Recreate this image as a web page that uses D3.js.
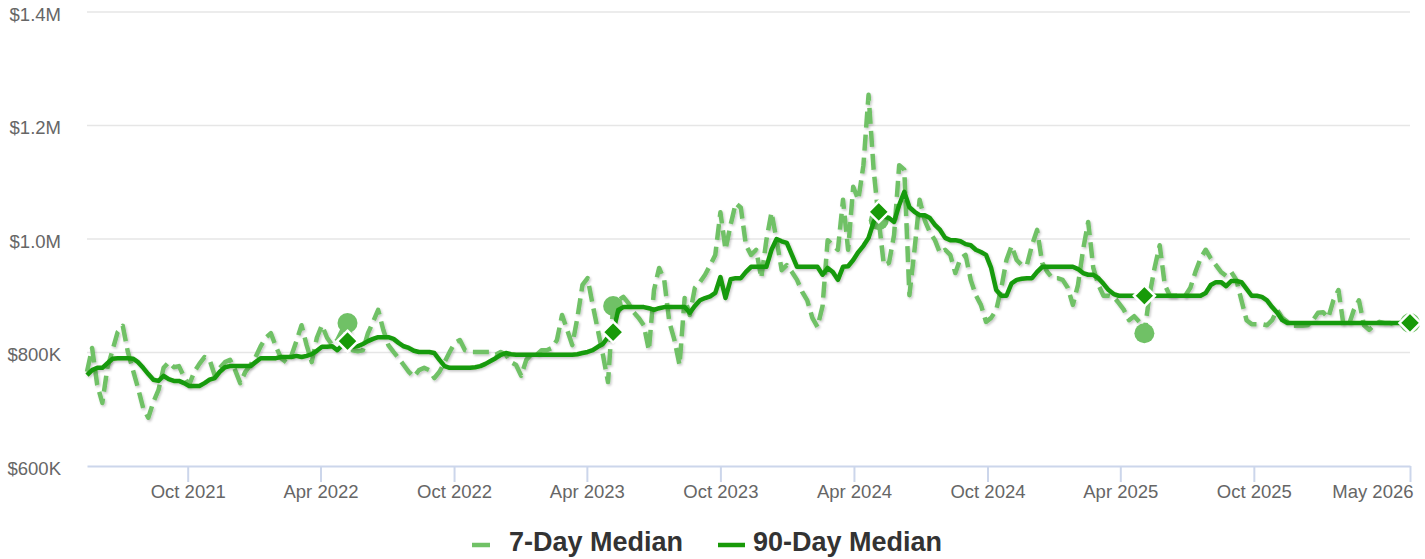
<!DOCTYPE html>
<html><head><meta charset="utf-8">
<script src="https://cdn.jsdelivr.net/npm/d3@7"></script>
<style>
body{margin:0;background:#fff}
svg{display:block;font-family:"Liberation Sans",Arial,Helvetica,sans-serif}
</style>
</head><body>
<svg id="chart" width="1425" height="559"></svg>
<script>
// ---- data (values in thousands of dollars, one point per week) ----
const startDate = "2021-05-16";
const median7 = [
766,808,743,711,773,804,836,847,801,769,
737,702,685,713,734,773,783,774,776,757,
743,766,780,792,787,760,773,783,787,769,
746,766,778,792,811,826,834,810,790,783,
794,820,848,813,783,826,848,826,813,822,
840,852,804,802,804,834,854,875,840,813,
801,790,778,766,757,769,773,769,755,766,
783,801,817,822,804,801,801,801,801,801,
796,801,796,783,778,759,787,797,796,804,
804,808,822,866,840,813,861,919,931,884,
840,796,748,882,892,898,887,871,861,848,
804,910,949,928,854,822,778,896,866,914,
924,937,954,972,1047,981,1025,1063,1055,989,
972,981,931,998,1047,998,945,954,942,928,
907,892,861,845,882,998,989,981,1069,981,
1092,1069,1130,1254,1122,1033,954,958,1007,1130,
1122,901,981,1069,1033,1012,998,975,981,972,
940,966,972,928,901,884,854,861,875,914,
963,988,963,954,954,989,1016,958,942,931,
931,928,914,884,919,981,1030,949,919,900,
900,898,887,875,857,864,854,834,901,949,
989,919,900,900,900,900,914,942,966,981,
966,954,942,935,942,928,892,857,850,850,
850,848,857,875,861,854,847,847,847,848,
857,870,871,861,892,910,847,848,875,892,
848,840,848,854,852,852,850,852,852,852
];
const median90 = [
760,769,773,773,781,789,790,790,790,789,
783,773,762,752,750,759,753,750,750,746,
741,741,741,746,752,755,766,774,776,776,
776,776,776,783,790,790,790,790,792,792,
792,794,792,794,797,803,810,810,811,804,
813,820,810,811,815,820,824,827,827,827,
824,817,811,808,803,801,801,801,799,787,
776,773,773,773,773,773,774,776,780,785,
790,796,799,797,796,796,796,796,796,796,
796,796,796,796,796,796,797,799,801,804,
810,815,827,836,875,880,880,880,880,880,
878,875,878,880,880,880,880,880,870,882,
892,896,899,905,933,896,929,931,931,942,
951,951,951,951,981,1000,996,993,972,951,
951,951,951,951,937,949,942,928,951,952,
963,977,988,1002,1030,1048,1040,1037,1030,1060,
1083,1056,1048,1042,1042,1037,1025,1016,1002,998,
998,996,991,989,981,977,972,949,910,900,
900,922,928,930,931,931,942,951,951,951,
951,951,951,951,947,940,937,937,931,921,
910,903,900,900,900,900,900,900,900,900,
900,900,900,900,900,900,900,900,900,905,
919,924,924,917,926,926,924,912,900,900,
898,892,880,870,857,852,852,852,852,852,
852,852,852,852,852,852,852,852,852,852,
852,852,852,852,852,852,852,852,852,852
];
const markerIdx = [51, 103, 155, 207, 259];
const yTickValues = [600, 800, 1000, 1200, 1400];
const yTickLabels = ["$600K", "$800K", "$1.0M", "$1.2M", "$1.4M"];
const xTickDates = ["2021-10-01","2022-04-01","2022-10-01","2023-04-01","2023-10-01","2024-04-01","2024-10-01","2025-04-01","2025-10-01"];
const xTickLabels = ["Oct 2021","Apr 2022","Oct 2022","Apr 2023","Oct 2023","Apr 2024","Oct 2024","Apr 2025","Oct 2025"];
const endTickLabel = "May 2026";
const seriesNames = ["7-Day Median", "90-Day Median"];
const colors = ["#70c166", "#189a08"];

// ---- build ----
const parse = d3.timeParse("%Y-%m-%d");
const d0 = parse(startDate);
const dates = median7.map((_, i) => d3.timeDay.offset(d0, 7 * i));

const svg = d3.select("#chart");
const L = 87, R = 1410, T = 12, B = 466;
const x = d3.scaleTime().domain([dates[0], dates[dates.length - 1]]).range([L, R]);
const y = d3.scaleLinear().domain([600, 1400]).range([B, T]);

const defs = svg.append("defs");
const f = defs.append("filter").attr("id", "shadow")
  .attr("filterUnits", "userSpaceOnUse").attr("x", 0).attr("y", 0).attr("width", 1425).attr("height", 559);
f.append("feDropShadow").attr("dx", 1.2).attr("dy", 1.6).attr("stdDeviation", 1.3)
  .attr("flood-color", "#000").attr("flood-opacity", 0.22);

// gridlines
svg.append("g").selectAll("line").data(yTickValues.slice(1)).join("line")
  .attr("x1", L).attr("x2", R).attr("y1", d => y(d)).attr("y2", d => y(d))
  .attr("stroke", "#e6e6e6").attr("stroke-width", 1.5);

// y labels
svg.append("g").selectAll("text").data(yTickValues).join("text")
  .attr("x", 61).attr("y", d => y(d) + 8.5).attr("text-anchor", "end")
  .attr("font-size", "18.5px").attr("fill", "#666")
  .text((d, i) => yTickLabels[i]);

// x axis via d3 axis
const tickDates = xTickDates.map(parse).concat([dates[dates.length - 1]]);
const tickLabels = xTickLabels.concat([endTickLabel]);
const xAxis = d3.axisBottom(x).tickValues(tickDates).tickSize(16).tickSizeOuter(0)
  .tickFormat((d, i) => tickLabels[i]);
const gx = svg.append("g").attr("transform", `translate(0,${B})`).call(xAxis);
gx.select(".domain").attr("stroke", "#ccd6eb").attr("stroke-width", 2);
gx.selectAll(".tick line").attr("stroke", "#ccd6eb").attr("stroke-width", 2);
gx.selectAll(".tick text").attr("font-size", "18.5px").attr("fill", "#666")
  .attr("font-family", "Liberation Sans, Arial, sans-serif").attr("y", 19).attr("dy", "0.71em");
gx.selectAll(".tick").filter((d, i) => i === tickDates.length - 1).select("text")
  .attr("text-anchor", "end").attr("x", 3);

// lines
const line = vals => d3.line().x((d, i) => x(dates[i])).y(d => y(d))(vals);
svg.append("path").attr("d", line(median7)).attr("fill", "none")
  .attr("stroke", colors[0]).attr("stroke-width", 4.5).attr("stroke-dasharray", "16,7")
  .attr("stroke-linejoin", "round").attr("filter", "url(#shadow)");

svg.append("g").selectAll("circle").data(markerIdx).join("circle")
  .attr("cx", i => x(dates[i])).attr("cy", i => y(median7[i])).attr("r", 10)
  .attr("fill", colors[0]);

svg.append("path").attr("d", line(median90)).attr("fill", "none")
  .attr("stroke", colors[1]).attr("stroke-width", 4.5)
  .attr("stroke-linejoin", "round").attr("filter", "url(#shadow)");

const h = 10.5;
svg.append("g").selectAll("path").data(markerIdx).join("path")
  .attr("d", `M0,${-h}L${h},0L0,${h}L${-h},0Z`)
  .attr("transform", i => `translate(${x(dates[i])},${y(median90[i])})`)
  .attr("fill", colors[1]).attr("stroke", "#fff").attr("stroke-width", 2.5);

// legend
const lg = svg.append("g");
const legendItems = [
  {sx1: 472, sx2: 490, tx: 509},
  {sx1: 718, sx2: 745, tx: 753}
];
legendItems.forEach((it, k) => {
  lg.append("line").attr("x1", it.sx1).attr("x2", it.sx2).attr("y1", 545).attr("y2", 545)
    .attr("stroke", colors[k]).attr("stroke-width", 4.5);
  lg.append("text").attr("x", it.tx).attr("y", 551).attr("font-size", "27px")
    .attr("font-weight", "bold").attr("fill", "#333").text(seriesNames[k]);
});
</script>
</body></html>
